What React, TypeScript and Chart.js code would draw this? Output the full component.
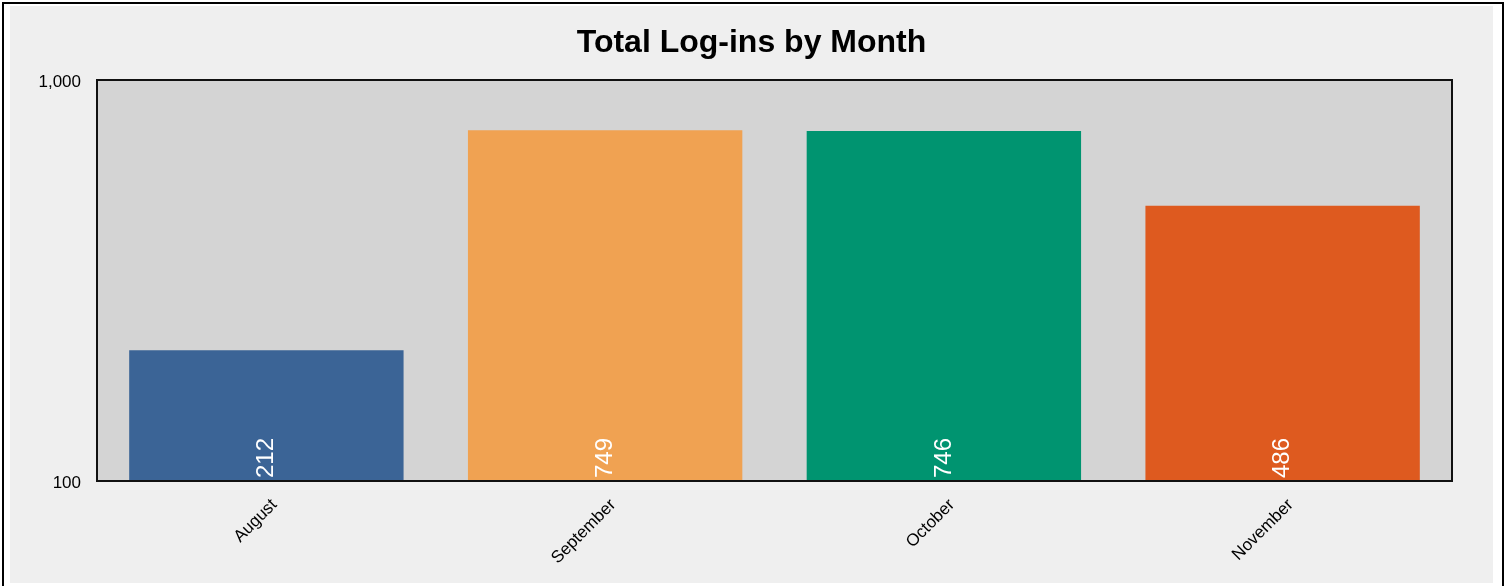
import React, { useEffect, useRef } from 'react';
import { Chart, registerables } from 'chart.js';

Chart.register(...registerables);

const titleText = 'Total Log-ins by Month';
const months = ['August', 'September', 'October', 'November'];
const logins = [212, 749, 746, 486];
const barColors = ['#3b6496', '#f0a252', '#009470', '#de5a1f'];
const yTickValues = [100, 1000];

const FONT = "'Liberation Sans', Arial, Helvetica, sans-serif";

const framePlugin = {
  id: 'framePlugin',
  beforeDraw(chart: any) {
    const { ctx, chartArea, width, height } = chart;
    ctx.save();
    ctx.fillStyle = '#efefef';
    ctx.fillRect(0, 0, width, height);
    ctx.fillStyle = '#d4d4d4';
    ctx.fillRect(chartArea.left, chartArea.top, chartArea.right - chartArea.left, chartArea.bottom - chartArea.top);
    ctx.restore();
  },
  afterDatasetsDraw(chart: any) {
    const { ctx, chartArea } = chart;
    ctx.save();
    const meta = chart.getDatasetMeta(0);
    ctx.fillStyle = '#ffffff';
    ctx.font = `24px ${FONT}`;
    ctx.textAlign = 'left';
    ctx.textBaseline = 'middle';
    meta.data.forEach((bar: any, i: number) => {
      const { x, base } = bar.getProps(['x', 'base'], true);
      ctx.save();
      ctx.translate(x, base - 3);
      ctx.rotate(-Math.PI / 2);
      ctx.fillText(String(logins[i]), 0, 0);
      ctx.restore();
    });
    ctx.strokeStyle = '#111111';
    ctx.lineWidth = 2;
    ctx.strokeRect(chartArea.left, chartArea.top, chartArea.right - chartArea.left, chartArea.bottom - chartArea.top);
    ctx.restore();
  },
};

export default function App() {
  const canvasRef = useRef<HTMLCanvasElement | null>(null);

  useEffect(() => {
    if (!canvasRef.current) return;
    const chart = new Chart(canvasRef.current, {
      type: 'bar',
      data: {
        labels: months,
        datasets: [
          {
            label: 'Log-ins',
            data: logins,
            backgroundColor: barColors,
            borderWidth: 0,
            categoryPercentage: 0.9,
            barPercentage: 0.9,
          },
        ],
      },
      options: {
        animation: false,
        responsive: true,
        maintainAspectRatio: false,
        layout: { padding: 0 },
        plugins: {
          legend: { display: false },
          tooltip: { enabled: false },
          title: {
            display: true,
            text: titleText,
            color: '#000000',
            font: { family: FONT, size: 32, weight: 'bold' },
            padding: { top: 18, bottom: 17.6 },
          },
        },
        scales: {
          x: {
            grid: { display: false, drawTicks: false },
            border: { display: false },
            ticks: {
              color: '#000000',
              font: { family: FONT, size: 17 },
              minRotation: 45,
              maxRotation: 45,
              padding: 14,
              labelOffset: 8,
            },
            afterFit: (s: any) => {
              s.height = 102;
            },
          },
          y: {
            type: 'logarithmic',
            min: 100,
            max: 1000,
            grid: { display: false, drawTicks: false },
            border: { display: false },
            afterBuildTicks: (s: any) => {
              s.ticks = yTickValues.map((v) => ({ value: v }));
            },
            ticks: {
              color: '#000000',
              font: { family: FONT, size: 17 },
              padding: 16,
              labelOffset: 2,
              callback: (v: any) => Number(v).toLocaleString('en-US'),
            },
            afterFit: (s: any) => {
              s.width = 87;
            },
          },
          yRight: {
            type: 'linear',
            position: 'right',
            display: true,
            grid: { display: false, drawTicks: false },
            border: { display: false },
            ticks: { display: false },
            afterFit: (s: any) => {
              s.width = 41;
            },
          },
        },
      },
      plugins: [framePlugin],
    });
    return () => chart.destroy();
  }, []);

  return (
    <div
      style={{
        position: 'fixed',
        left: 2,
        top: 2,
        width: 1502,
        height: 620,
        boxSizing: 'border-box',
        border: '2px solid #000',
        background: '#ffffff',
      }}
    >
      <div style={{ position: 'absolute', left: 6, top: 2, width: 1483, height: 577 }}>
        <canvas ref={canvasRef} />
      </div>
    </div>
  );
}
